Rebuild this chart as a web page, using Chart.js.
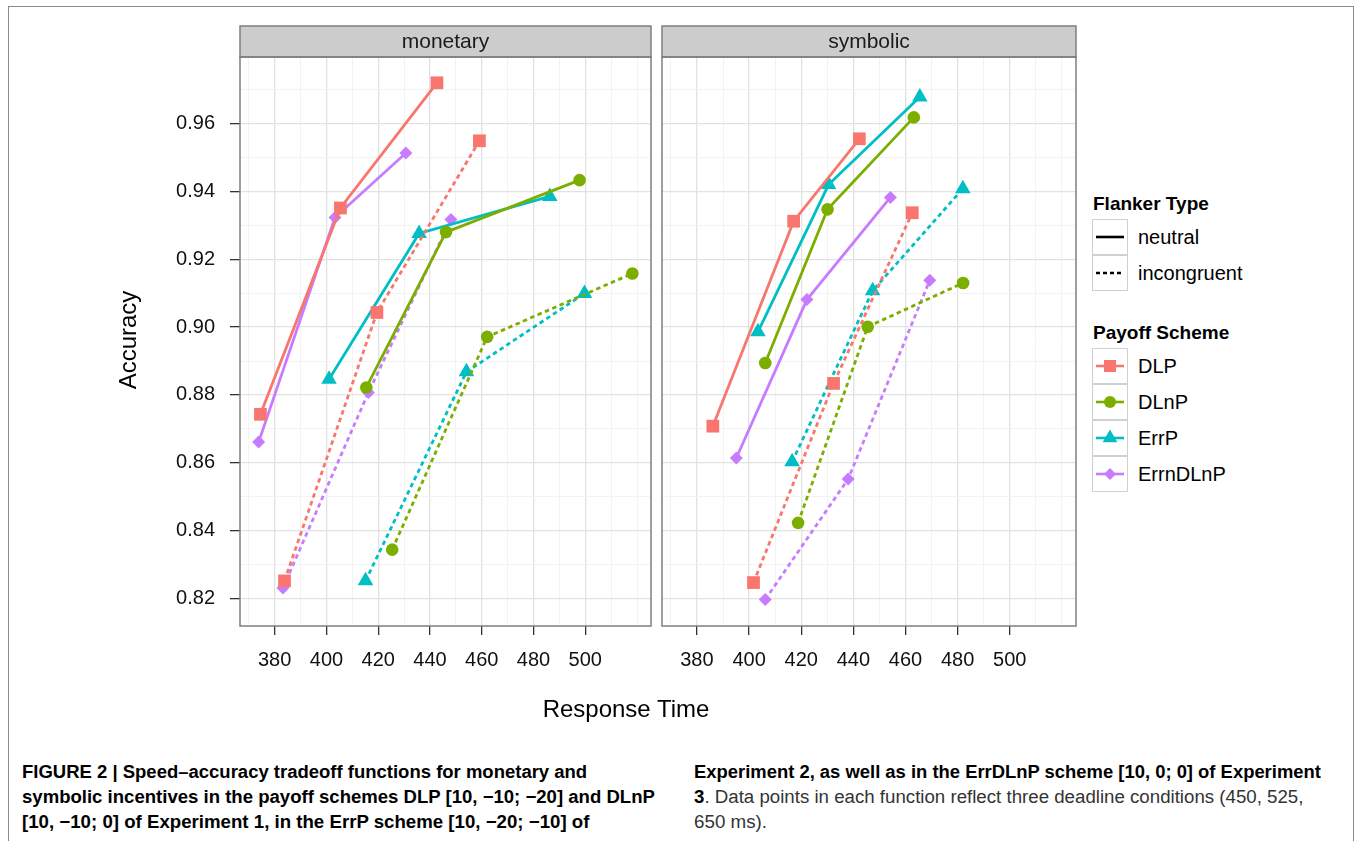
<!DOCTYPE html>
<html>
<head>
<meta charset="utf-8">
<script src="https://cdn.jsdelivr.net/npm/chart.js@4.4.0/dist/chart.umd.min.js"></script>
<style>
  body { margin: 0; background: #fff; font-family: "Liberation Sans", Arial, sans-serif; color: #000; }
  #wrap { position: relative; width: 1355px; height: 841px; overflow: hidden; }
  .frame { position: absolute; left: 8px; top: 6px; width: 1344px; height: 900px; border: 1.5px solid #8a8a8a; border-bottom: none; }
  canvas { position: absolute; }
  .ytitle { position: absolute; left: 28px; top: 328px; width: 200px; height: 24px; line-height: 24px; font-size: 24px; text-align: center; transform: rotate(-90deg); }
  .xtitle { position: absolute; left: 0; width: 1252px; top: 697px; line-height: 24px; font-size: 24px; text-align: center; }
  .lg-title { position: absolute; left: 1093px; font-size: 19px; font-weight: bold; line-height: 20px; }
  .key { position: absolute; left: 1092px; width: 34px; height: 34px; border: 1.5px solid #d0d0d0; }
  .key svg { display: block; }
  .lg-label { position: absolute; left: 1138px; font-size: 20px; line-height: 36px; }
  .cap { position: absolute; top: 760px; font-size: 18px; line-height: 25px; }
  .cap div { white-space: nowrap; }
  .fit { display: inline-block; transform-origin: 0 50%; }
  .b { font-weight: bold; }
  .n { color: #333; }
</style>
</head>
<body>
<div id="wrap">
  <div class="frame"></div>
  <canvas id="monetary" width="520" height="680" style="left:140px;top:20px"></canvas>
  <canvas id="symbolic" width="440" height="680" style="left:650px;top:20px"></canvas>
  <div class="ytitle">Accuracy</div>
  <div class="xtitle">Response Time</div>
  <div id="legend"></div>
  <div class="cap" style="left:22px">
    <div><span class="fit b" data-w="565">FIGURE 2 | Speed–accuracy tradeoff functions for monetary and</span></div>
    <div><span class="fit b" data-w="633">symbolic incentives in the payoff schemes DLP [10, −10; −20] and DLnP</span></div>
    <div><span class="fit b" data-w="567">[10, −10; 0] of Experiment 1, in the ErrP scheme [10, −20; −10] of</span></div>
  </div>
  <div class="cap" style="left:694px">
    <div><span class="fit b" data-w="627">Experiment 2, as well as in the ErrDLnP scheme [10, 0; 0] of Experiment</span></div>
    <div><span class="fit" data-w="609"><span class="b">3</span><span class="n">. Data points in each function reflect three deadline conditions (450, 525,</span></span></div>
    <div><span class="fit n" data-w="73">650 ms).</span></div>
  </div>
</div>
<script>
// axis ticks
const xTicks = [380, 400, 420, 440, 460, 480, 500];
const yTicks = [0.82, 0.84, 0.86, 0.88, 0.90, 0.92, 0.94, 0.96];
const xLimits = [366.6, 525.4];
const yLimits = [0.8119, 0.9796];

const panels = ["monetary", "symbolic"];
const schemes = ["DLP", "DLnP", "ErrP", "ErrnDLnP"];
const flankers = ["neutral", "incongruent"];

// [response time, accuracy] per series
const monDLPNeutral = [[374.5, 0.8743], [405.4, 0.9351], [442.7, 0.9720]];
const monDLPIncong = [[383.8, 0.8252], [419.5, 0.9043], [459.1, 0.9549]];
const monDLnPNeutral = [[415.4, 0.8822], [446.2, 0.9280], [497.8, 0.9433]];
const monDLnPIncong = [[425.4, 0.8344], [462.1, 0.8971], [518.2, 0.9158]];
const monErrPNeutral = [[401.0, 0.8846], [435.8, 0.9276], [486.3, 0.9385]];
const monErrPIncong = [[415.1, 0.8252], [454.1, 0.8868], [499.7, 0.9099]];
const monErrnDLnPNeutral = [[373.8, 0.8661], [403.3, 0.9323], [430.7, 0.9513]];
const monErrnDLnPIncong = [[383.2, 0.8231], [416.2, 0.8807], [448.1, 0.9317]];

const symDLPNeutral = [[386.1, 0.8708], [417.1, 0.9312], [442.3, 0.9555]];
const symDLPIncong = [[401.7, 0.8247], [432.4, 0.8834], [462.6, 0.9337]];
const symDLnPNeutral = [[406.2, 0.8894], [430.1, 0.9347], [463.2, 0.9618]];
const symDLnPIncong = [[418.8, 0.8423], [445.5, 0.9001], [482.1, 0.9130]];
const symErrPNeutral = [[403.4, 0.8986], [430.5, 0.9420], [465.5, 0.9678]];
const symErrPIncong = [[416.5, 0.8603], [447.4, 0.9107], [482.0, 0.9408]];
const symErrnDLnPNeutral = [[395.1, 0.8614], [422.2, 0.9081], [454.2, 0.9382]];
const symErrnDLnPIncong = [[406.2, 0.8197], [438.0, 0.8552], [469.3, 0.9138]];

const panelSeries = {
  monetary: {
    DLP: [monDLPNeutral, monDLPIncong],
    DLnP: [monDLnPNeutral, monDLnPIncong],
    ErrP: [monErrPNeutral, monErrPIncong],
    ErrnDLnP: [monErrnDLnPNeutral, monErrnDLnPIncong],
  },
  symbolic: {
    DLP: [symDLPNeutral, symDLPIncong],
    DLnP: [symDLnPNeutral, symDLnPIncong],
    ErrP: [symErrPNeutral, symErrPIncong],
    ErrnDLnP: [symErrnDLnPNeutral, symErrnDLnPIncong],
  },
};

// styles
const colors = { DLP: "#F8766D", DLnP: "#7CAE00", ErrP: "#00BFC4", ErrnDLnP: "#C77CFF" };
const shapes = { DLP: "rect", DLnP: "circle", ErrP: "triangle", ErrnDLnP: "rectRot" };
const radii = { DLP: 9, DLnP: 6.3, ErrP: 9, ErrnDLnP: 6.5 };
const dash = { neutral: [], incongruent: [4.5, 3.5] };

Chart.defaults.font.family = "'Liberation Sans', Arial, sans-serif";
Chart.defaults.color = "#000";

// major + minor gridline positions
function gridTicks(major, lo, hi) {
  const half = (major[1] - major[0]) / 2;
  const out = [];
  for (let k = Math.ceil(lo / half - 1e-9); k * half <= hi + 1e-9; k++) {
    const v = +(k * half).toFixed(6);
    out.push({ value: v, m: major.some((t) => Math.abs(t - v) < 1e-9) });
  }
  return out;
}

const panelFrame = {
  id: "panelFrame",
  afterDraw(chart, args, opts) {
    const { ctx, chartArea: a } = chart;
    const stripH = 31;
    ctx.save();
    ctx.fillStyle = "#cccccc";
    ctx.fillRect(a.left, a.top - stripH, a.right - a.left, stripH);
    ctx.strokeStyle = "#7f7f7f";
    ctx.lineWidth = 1.5;
    ctx.strokeRect(a.left, a.top - stripH, a.right - a.left, stripH);
    ctx.strokeRect(a.left, a.top, a.right - a.left, a.bottom - a.top);
    ctx.fillStyle = "#1a1a1a";
    ctx.font = "21px 'Liberation Sans', Arial, sans-serif";
    ctx.textAlign = "center";
    ctx.textBaseline = "middle";
    ctx.fillText(opts.label, (a.left + a.right) / 2, a.top - stripH / 2 + 1);
    ctx.restore();
  },
};

function makePanel(name, showY, pad) {
  const datasets = [];
  schemes.forEach((s) => {
    flankers.forEach((f, i) => {
      datasets.push({
        label: s + " " + f,
        data: panelSeries[name][s][i].map(([x, y]) => ({ x, y })),
        showLine: true,
        borderColor: colors[s],
        backgroundColor: colors[s],
        borderWidth: 2.8,
        borderDash: dash[f],
        pointStyle: shapes[s],
        pointRadius: radii[s],
        pointBorderWidth: 0,
        pointBackgroundColor: colors[s],
      });
    });
  });

  new Chart(document.getElementById(name), {
    type: "scatter",
    data: { datasets },
    plugins: [panelFrame],
    options: {
      responsive: false,
      animation: false,
      events: [],
      layout: { padding: pad },
      plugins: {
        legend: { display: false },
        tooltip: { enabled: false },
        panelFrame: { label: name },
      },
      scales: {
        x: {
          type: "linear",
          min: xLimits[0],
          max: xLimits[1],
          afterBuildTicks: (sc) => { sc.ticks = gridTicks(xTicks, xLimits[0], xLimits[1]); },
          afterFit: (sc) => { sc.height = 74; },
          border: { display: false },
          grid: {
            color: (c) => (c.tick && c.tick.m ? "#e2e2e2" : "#f3f3f3"),
            lineWidth: (c) => (c.tick && c.tick.m ? 1.3 : 1),
            tickColor: (c) => (c.tick && c.tick.m ? "#333" : "rgba(0,0,0,0)"),
            tickLength: 9,
            tickWidth: 1.3,
          },
          ticks: {
            autoSkip: false,
            maxRotation: 0,
            padding: 13,
            font: { size: 20 },
            color: "#111",
            callback: (v, i, t) => (t[i].m ? String(v) : ""),
          },
        },
        y: {
          type: "linear",
          min: yLimits[0],
          max: yLimits[1],
          afterBuildTicks: (sc) => { sc.ticks = gridTicks(yTicks, yLimits[0], yLimits[1]); },
          afterFit: (sc) => { sc.width = showY ? 100 : 0; },
          border: { display: false },
          grid: {
            color: (c) => (c.tick && c.tick.m ? "#e2e2e2" : "#f3f3f3"),
            lineWidth: (c) => (c.tick && c.tick.m ? 1.3 : 1),
            tickColor: (c) => (c.tick && c.tick.m ? "#333" : "rgba(0,0,0,0)"),
            drawTicks: showY,
            tickLength: 10,
            tickWidth: 1.3,
          },
          ticks: {
            display: showY,
            autoSkip: false,
            padding: 15,
            font: { size: 20 },
            color: "#111",
            callback: (v, i, t) => (t[i].m ? v.toFixed(2) : ""),
          },
        },
      },
    },
  });
}

makePanel("monetary", true, { left: 0, right: 6, top: 37, bottom: 0 });
makePanel("symbolic", false, { left: 12, right: 14, top: 37, bottom: 0 });

// legend
function keySvg(kind, key) {
  const line = (col, d) =>
    `<line x1="3" y1="17" x2="31" y2="17" stroke="${col}" stroke-width="2.6" ${d ? 'stroke-dasharray="4 3"' : ""}/>`;
  if (kind === "flanker") return `<svg width="34" height="34">${line("#000", key === "incongruent")}</svg>`;
  const c = colors[key];
  let mark = "";
  if (key === "DLP") mark = `<rect x="11" y="11" width="12" height="12" fill="${c}"/>`;
  if (key === "DLnP") mark = `<circle cx="17" cy="17" r="6" fill="${c}"/>`;
  if (key === "ErrP") mark = `<polygon points="17,8.5 24.4,21.3 9.6,21.3" fill="${c}"/>`;
  if (key === "ErrnDLnP") mark = `<polygon points="17,11 23,17 17,23 11,17" fill="${c}"/>`;
  return `<svg width="34" height="34">${line(c, false)}${mark}</svg>`;
}

let html = `<div class="lg-title" style="top:194px">Flanker Type</div>`;
flankers.forEach((f, i) => {
  const top = 219 + i * 36;
  html += `<div class="key" style="top:${top}px">${keySvg("flanker", f)}</div>`;
  html += `<div class="lg-label" style="top:${top}px">${f}</div>`;
});
html += `<div class="lg-title" style="top:323px">Payoff Scheme</div>`;
schemes.forEach((s, i) => {
  const top = 348 + i * 36;
  html += `<div class="key" style="top:${top}px">${keySvg("scheme", s)}</div>`;
  html += `<div class="lg-label" style="top:${top}px">${s}</div>`;
});
document.getElementById("legend").innerHTML = html;

// squeeze caption lines to the narrow journal typeface widths
document.querySelectorAll(".fit").forEach((el) => {
  const w = +el.dataset.w;
  el.style.transform = `scaleX(${w / el.offsetWidth})`;
});
</script>
</body>
</html>
